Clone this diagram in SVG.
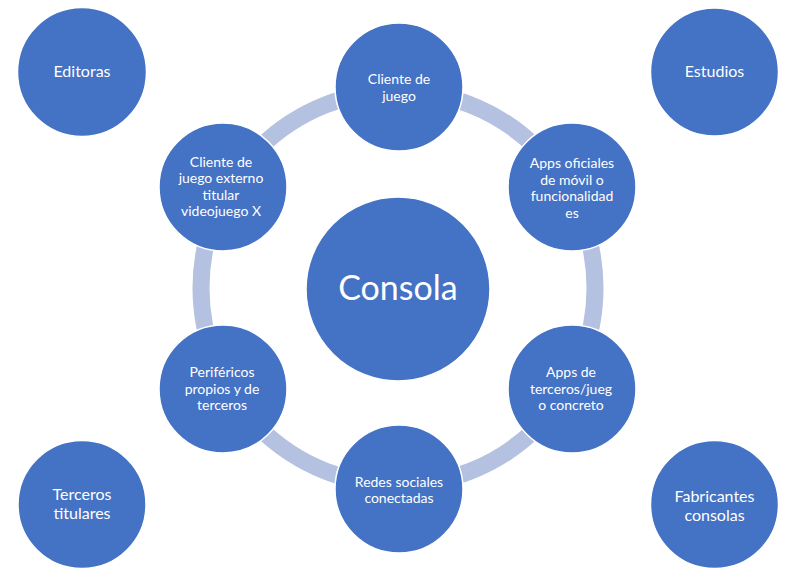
<svg xmlns="http://www.w3.org/2000/svg" width="800" height="572" viewBox="0 0 800 572">
<style>
.n{fill:#4472C4;stroke:#FFFFFF;stroke-width:1.5}
.t{fill:#FFFFFF;font-family:Lato,"Open Sans","Liberation Sans",sans-serif;text-anchor:middle}
.s{font-size:14px}
.m{font-size:16px}
.l{font-size:34px}
.ring{fill:none;stroke:#B4C1E0;stroke-width:17}
</style>
<rect width="800" height="572" fill="#FFFFFF"/>
<g id="connectors">
<circle class="ring" cx="398" cy="288" r="197"/>
</g>
<g id="consola">
<circle class="n" cx="398" cy="289" r="92"/>
<text class="t l" x="398" y="300">Consola</text>
</g>
<g id="cliente-juego">
<circle class="n" cx="399" cy="87" r="64"/>
<text class="t s" x="399" y="84">Cliente de</text>
<text class="t s" x="399" y="100.5">juego</text>
</g>
<g id="apps-oficiales">
<circle class="n" cx="572" cy="187" r="64"/>
<text class="t s" x="572" y="168">Apps oficiales</text>
<text class="t s" x="572" y="184.5">de móvil o</text>
<text class="t s" x="572" y="201">funcionalidad</text>
<text class="t s" x="572" y="217.5">es</text>
</g>
<g id="apps-terceros">
<circle class="n" cx="572" cy="389" r="64"/>
<text class="t s" x="571" y="377">Apps de</text>
<text class="t s" x="571" y="393.5">terceros/jueg</text>
<text class="t s" x="571" y="410">o concreto</text>
</g>
<g id="redes-sociales">
<circle class="n" cx="399" cy="489" r="64"/>
<text class="t s" x="399" y="486.5">Redes sociales</text>
<text class="t s" x="399" y="503">conectadas</text>
</g>
<g id="perifericos">
<circle class="n" cx="223" cy="389" r="64"/>
<text class="t s" x="222" y="377">Periféricos</text>
<text class="t s" x="222" y="393.5">propios y de</text>
<text class="t s" x="222" y="410">terceros</text>
</g>
<g id="cliente-externo">
<circle class="n" cx="223" cy="187" r="64"/>
<text class="t s" x="221" y="166.5">Cliente de</text>
<text class="t s" x="221" y="183">juego externo</text>
<text class="t s" x="221" y="199.5">titular</text>
<text class="t s" x="221" y="216">videojuego X</text>
</g>
<g id="editoras">
<circle class="n" cx="82" cy="72" r="64.5"/>
<text class="t m" x="82" y="77">Editoras</text>
</g>
<g id="estudios">
<circle class="n" cx="714.5" cy="72" r="64"/>
<text class="t m" x="714.5" y="77">Estudios</text>
</g>
<g id="terceros-titulares">
<circle class="n" cx="82" cy="504.5" r="64"/>
<text class="t m" x="82" y="500">Terceros</text>
<text class="t m" x="82" y="519">titulares</text>
</g>
<g id="fabricantes">
<circle class="n" cx="714.5" cy="504.5" r="64"/>
<text class="t m" x="714.5" y="502">Fabricantes</text>
<text class="t m" x="714.5" y="521">consolas</text>
</g>
</svg>
